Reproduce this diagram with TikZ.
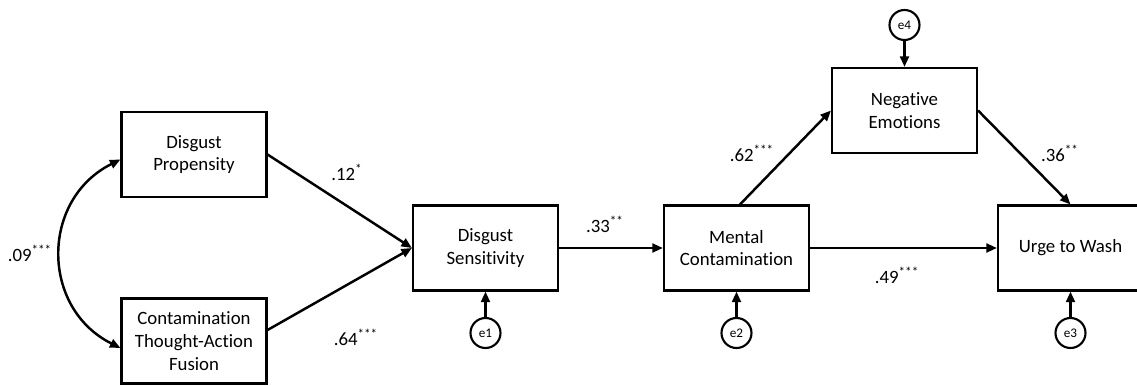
\documentclass[tikz,border=0pt]{standalone}
\usepackage{fontspec}
\setmainfont{Carlito}[Ligatures={NoCommon}]
\usetikzlibrary{arrows.meta}

\begin{document}
\begin{tikzpicture}[auto,
    construct/.style ={rectangle, draw, line width=1.2pt, minimum width=2.9cm, minimum height=1.7cm,
      align=center, font=\fontsize{10.7}{13}\selectfont},
    residual/.style ={circle, draw, line width=1.2pt, minimum size=0.6cm, inner sep=0pt,
      font=\fontsize{7.5}{9}\selectfont},
    effect/.style ={line width=1.4pt, -{Triangle[length=6pt,width=5pt]}},
    coef/.style ={font=\fontsize{10.7}{13}\selectfont}]
   \useasboundingbox (0,0) rectangle (22.74,7.7);

   \node[construct] (prop) at (3.88,4.61) {Disgust\\Propensity};
   \node[construct] (taf)  at (3.88,0.88) {Contamination\\Thought-Action\\Fusion};
   \node[construct] (sens) at (9.71,2.74) {Disgust\\Sensitivity};
   \node[construct] (ment) at (14.73,2.74) {Mental\\Contamination};
   \node[construct] (nege) at (18.09,5.49) {Negative\\Emotions};
   \node[construct] (urge) at (21.41,2.74) {Urge to Wash};

   \node[residual] (e1) at (9.71,1.04) {e1};
   \node[residual] (e2) at (14.73,1.04) {e2};
   \node[residual] (e3) at (21.41,1.04) {e3};
   \node[residual] (e4) at (18.09,7.2) {e4};

   \draw[effect, {Triangle[length=6pt,width=5pt]}-{Triangle[length=6pt,width=5pt]}]
     ([yshift=-0.1cm]prop.west) .. controls +(-1.6,-0.8) and +(-1.6,0.8) .. ([yshift=-0.14cm]taf.west);
   \draw[effect] (prop.east) to (sens.west);
   \draw[effect] ([yshift=0.22cm]taf.east) to (sens.west);
   \draw[effect] (sens.east) to (ment.west);
   \draw[effect] ([xshift=0.07cm]ment.north) to (nege.west);
   \draw[effect] (ment.east) to (urge.west);
   \draw[effect] (nege.east) to (urge.north);
   \draw[effect] (e1) to (sens.south);
   \draw[effect] (e2) to (ment.south);
   \draw[effect] (e3) to (urge.south);
   \draw[effect] (e4) to (nege.north);

   \node[coef] (c09) at (0.6,2.64) {.09\textsuperscript{***}};
   \node[coef] (c12) at (6.94,4.26) {.12\textsuperscript{*}};
   \node[coef] (c64) at (7.12,0.96) {.64\textsuperscript{***}};
   \node[coef] (c33) at (12.1,3.22) {.33\textsuperscript{**}};
   \node[coef] (c62) at (15.04,4.64) {.62\textsuperscript{***}};
   \node[coef] (c49) at (17.94,2.2) {.49\textsuperscript{***}};
   \node[coef] (c36) at (21.2,4.64) {.36\textsuperscript{**}};
 \end{tikzpicture}
\end{document}
